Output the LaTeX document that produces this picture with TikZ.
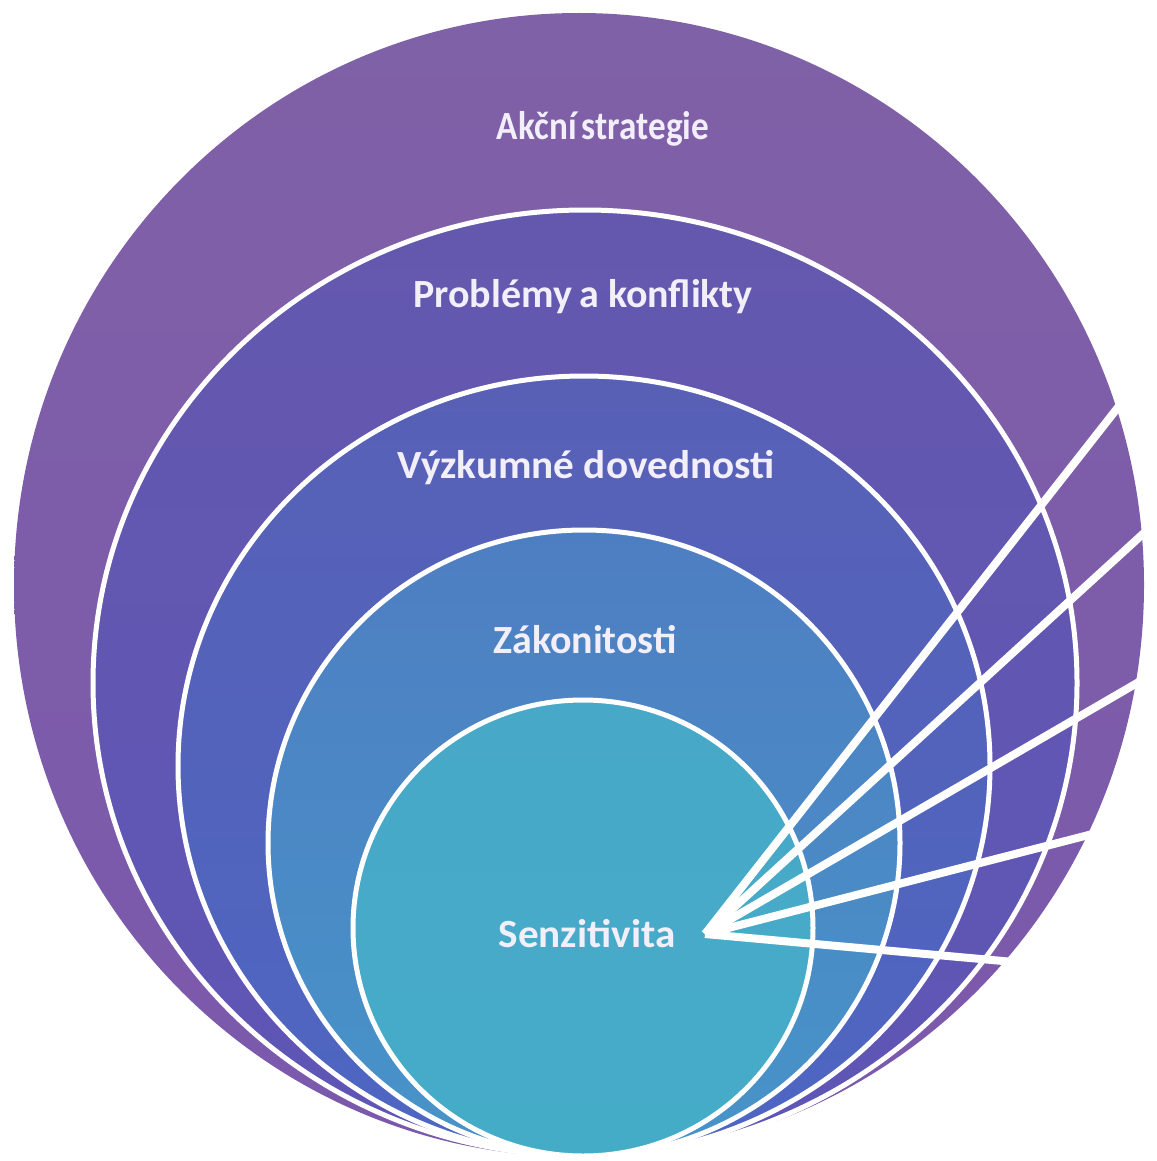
\documentclass[tikz,border=0pt]{standalone}
\usepackage{fontspec}
\setmainfont{Carlito}
\usetikzlibrary{shapes.geometric}
\definecolor{cAt}{HTML}{7F61A7}
\definecolor{cAb}{HTML}{7B58AC}
\definecolor{cBt}{HTML}{6458AE}
\definecolor{cBb}{HTML}{5E55B6}
\definecolor{cCt}{HTML}{5860B6}
\definecolor{cCb}{HTML}{4D66C2}
\definecolor{cDt}{HTML}{4E7EC2}
\definecolor{cDb}{HTML}{4794C9}
\definecolor{cEt}{HTML}{47A8C8}
\definecolor{cEb}{HTML}{45ACC8}
\definecolor{labelc}{HTML}{F2EEFA}
\begin{document}
\begin{tikzpicture}[x=0.5pt,y=-0.5pt,
  disc/.style={ellipse, inner sep=0pt, outer sep=0pt},
  ring/.style={disc, draw=white, line width=2.5pt},
  lbl/.style={text=labelc, font=\bfseries\fontsize{20}{24}\selectfont, inner sep=0pt},
  ray/.style={draw=white, line width=4pt, line cap=butt}]
\useasboundingbox (0,0) rectangle (1156,1161);
\fill[white] (0,0) rectangle (1156,1161);
% rings
\node[disc, minimum width=565pt, minimum height=572pt, top color=cAt, bottom color=cAb] (c1) at (579,585) {};
\node[ring, minimum width=492pt, minimum height=473pt, top color=cBt, bottom color=cBb] (c2) at (585,683) {};
\node[ring, minimum width=406pt, minimum height=390pt, top color=cCt, bottom color=cCb] (c3) at (584,766) {};
\node[ring, minimum width=316pt, minimum height=313pt, top color=cDt, bottom color=cDb] (c4) at (584,843) {};
\node[ring, minimum width=230pt, minimum height=228pt, top color=cEt, bottom color=cEb] (c5) at (583,928) {};
% rays
\coordinate (v) at (705,934);
\coordinate (e1) at (1130,392);
\coordinate (e2) at (1156,522);
\coordinate (e3) at (1156,672);
\coordinate (e4) at (1108,830);
\coordinate (e5) at (1025,963);
\foreach \e in {e1,e2,e3,e4,e5} \draw[ray] (v) -- (\e);
% labels
\node[lbl] (t1) at (603,129) {\scalebox{0.88}[1]{Akční\hspace{0.15em}strategie}};
\node[lbl] (t2) at (583,297) {Problémy\hspace{0.18em}a konflikty};
\node[lbl] (t3) at (586,468) {\scalebox{1.03}[1]{Výzkumné dovednosti}};
\node[lbl] (t4) at (585,640) {Zákonitosti};
\node[lbl] (t5) at (587,934) {\scalebox{1.03}[1]{Senzitivita}};
\end{tikzpicture}
\end{document}
